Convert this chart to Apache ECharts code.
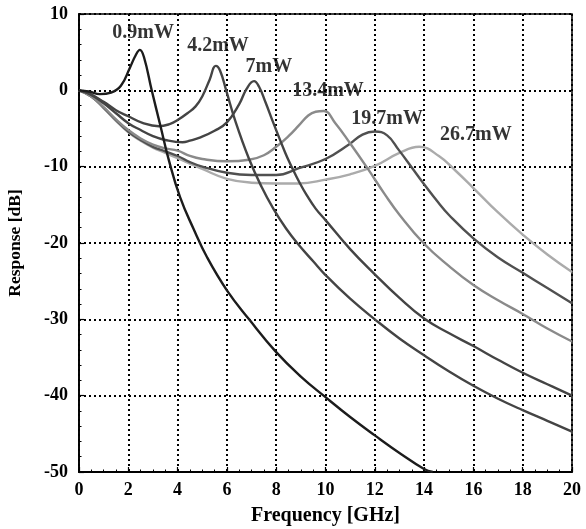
<!DOCTYPE html>
<html>
<head>
<meta charset="utf-8">
<script src="https://cdn.jsdelivr.net/npm/echarts@6/dist/echarts.min.js"></script>
<style>
  html, body { margin: 0; padding: 0; background: #fff; }
  #chart { width: 586px; height: 529px; }
</style>
</head>
<body>
<div id="chart"></div>
<script>
// Frequency response [dB] versus frequency [GHz] for six drive powers
const p09 = [[0,0],[0.4,-0.15],[0.85,-0.5],[1.3,-0.3],[1.7,0.6],[2.07,3.0],[2.3,4.6],[2.47,5.3],[2.64,4.3],[2.95,0],[3.3,-4.6],[3.65,-9.2],[4.1,-14],[4.64,-18.1],[5.2,-21.9],[6,-26.2],[6.9,-30],[8,-34.3],[9,-37.5],[10,-40.2],[11,-42.8],[12,-45.2],[13,-47.5],[14,-49.6],[14.35,-50]];
const p42 = [[0,0],[0.4,-0.4],[1,-1.5],[1.5,-2.6],[2,-3.4],[2.6,-4.3],[3.24,-4.7],[3.7,-4.4],[4,-3.9],[4.4,-3],[4.73,-2.1],[5.0,-0.8],[5.3,1.4],[5.55,3.2],[5.72,2.6],[5.97,0],[6.33,-3.9],[6.9,-9.0],[7.4,-12.6],[7.9,-15.6],[8.4,-18.1],[8.85,-20],[9.5,-22.4],[10,-24.2],[11,-27.3],[12,-30],[13,-32.5],[14,-34.7],[15,-36.8],[16,-38.7],[17,-40.4],[18,-41.9],[19,-43.3],[20,-44.7]];
const p70 = [[0,0],[0.5,-0.6],[1,-1.7],[1.5,-3.0],[2,-4.3],[2.5,-5.2],[3,-6.0],[3.5,-6.5],[4.2,-6.8],[4.5,-6.6],[4.9,-6.2],[5.5,-5.3],[6,-4.2],[6.5,-1.8],[6.8,0.2],[7.1,1.2],[7.3,0.5],[7.57,-1.6],[7.9,-4.4],[8.37,-8.2],[8.64,-10.1],[8.95,-12.1],[9.25,-13.8],[9.6,-15.5],[10,-17.0],[11,-20.8],[12,-24.1],[13,-27.2],[14,-29.9],[15,-31.8],[16,-33.5],[17,-35.3],[18,-37],[19,-38.5],[20,-40]];
const p134 = [[0,0],[0.5,-0.8],[1,-2.2],[1.5,-3.8],[2,-5.2],[2.5,-6.3],[3,-7.1],[3.5,-7.6],[4,-7.9],[4.5,-8.6],[5,-9.0],[6,-9.3],[6.9,-9.1],[7.5,-8.5],[8,-7.4],[8.5,-6.0],[8.92,-4.6],[9.3,-3.3],[9.6,-2.8],[9.93,-2.7],[10.4,-4.3],[10.99,-6.9],[11.7,-10.2],[12.4,-13.6],[13,-16.3],[14,-20.1],[15,-23],[16,-25.5],[17,-27.5],[18,-29.3],[19,-31.2],[20,-32.9]];
const p197 = [[0,0],[0.5,-0.8],[1,-2.3],[1.5,-3.9],[2,-5.4],[2.5,-6.5],[3,-7.4],[3.5,-8.0],[4,-8.6],[4.5,-9.4],[5,-10.0],[6,-10.8],[7,-11.1],[8,-11.1],[8.92,-10.2],[10,-9.0],[10.95,-7.1],[11.5,-5.8],[12,-5.4],[12.5,-5.9],[12.97,-7.8],[13.5,-10.1],[14,-12.3],[14.6,-14.8],[15,-16.3],[16,-19.4],[17,-21.9],[18,-23.9],[19,-25.9],[20,-27.9]];
const p267 = [[0,0],[0.5,-0.8],[1,-2.3],[1.5,-4.0],[2,-5.5],[2.5,-6.6],[3,-7.5],[3.5,-8.2],[4,-8.9],[4.5,-9.6],[5,-10.3],[6,-11.6],[7,-12.1],[8,-12.2],[8.92,-12.2],[10,-11.7],[11,-11.0],[12,-9.9],[13,-8.2],[13.8,-7.4],[14.6,-8.6],[15.3,-10.6],[16,-12.8],[17,-16.0],[18,-18.9],[19,-21.5],[20,-23.8]];

const seriesNames = ['0.9mW', '4.2mW', '7mW', '13.4mW', '19.7mW', '26.7mW'];
const seriesData = [p09, p42, p70, p134, p197, p267];
const seriesColors = ['#1c1c1c', '#444444', '#444444', '#8a8a8a', '#505050', '#ababab'];

// Power annotations placed near each resonance peak (data coordinates)
const labelX = [2.6, 5.64, 7.7, 10.1, 12.5, 16.1];
const labelY = [7.5, 5.8, 3.1, -0.1, -3.7, -5.8];

const xTicks = [0, 2, 4, 6, 8, 10, 12, 14, 16, 18, 20];
const yTicks = [-50, -40, -30, -20, -10, 0, 10];

const serif = '"Liberation Serif", "DejaVu Serif", serif';

const chart = echarts.init(document.getElementById('chart'), null, { renderer: 'canvas' });

const lineSeries = seriesData.map((d, i) => ({
  type: 'line',
  name: seriesNames[i],
  data: d,
  showSymbol: false,
  smooth: 0.45,
  lineStyle: { color: seriesColors[i], width: 2.4 },
  z: 10 - i
}));

const gridLine = { show: true, lineStyle: { color: '#000', width: 2, type: [2, 3] } };

chart.setOption({
  animation: false,
  backgroundColor: '#fff',
  grid: {
    left: 79, right: 14, top: 14, bottom: 57,
    show: true, borderColor: '#000', borderWidth: 1.5,
    containLabel: false, outerBoundsMode: 'none'
  },
  xAxis: {
    type: 'value', min: xTicks[0], max: xTicks[xTicks.length - 1], interval: 2,
    name: 'Frequency [GHz]', nameLocation: 'middle', nameGap: 34,
    nameTextStyle: { fontFamily: serif, fontWeight: 'bold', fontSize: 20, color: '#000' },
    axisLine: { show: true, onZero: false, lineStyle: { color: '#000', width: 1.8 } },
    axisTick: { show: true, inside: true, length: 5, lineStyle: { color: '#000', width: 1.2 } },
    minorTick: { show: true, splitNumber: 4, length: 2.5, lineStyle: { color: '#000', width: 1 } },
    axisLabel: { fontFamily: serif, fontWeight: 'bold', fontSize: 18, color: '#000', margin: 9 },
    splitLine: gridLine
  },
  yAxis: {
    type: 'value', min: yTicks[0], max: yTicks[yTicks.length - 1], interval: 10,
    name: 'Response [dB]', nameLocation: 'middle', nameGap: 55,
    nameTextStyle: { fontFamily: serif, fontWeight: 'bold', fontSize: 17.5, color: '#000' },
    axisLine: { show: true, onZero: false, lineStyle: { color: '#000', width: 1.8 } },
    axisTick: { show: true, inside: true, length: 5, lineStyle: { color: '#000', width: 1.2 } },
    minorTick: { show: true, splitNumber: 5, length: 2.5, lineStyle: { color: '#000', width: 1 } },
    axisLabel: { fontFamily: serif, fontWeight: 'bold', fontSize: 18, color: '#000', margin: 11 },
    splitLine: gridLine
  },
  series: lineSeries.concat([{
    type: 'scatter',
    symbolSize: 0,
    silent: true,
    z: 20,
    data: seriesNames.map((n, i) => ({ name: n, value: [labelX[i], labelY[i]] })),
    label: {
      show: true, position: 'inside', formatter: p => p.name,
      fontFamily: serif, fontWeight: 'bold', fontSize: 20, color: '#000'
    }
  }])
});
</script>
</body>
</html>
